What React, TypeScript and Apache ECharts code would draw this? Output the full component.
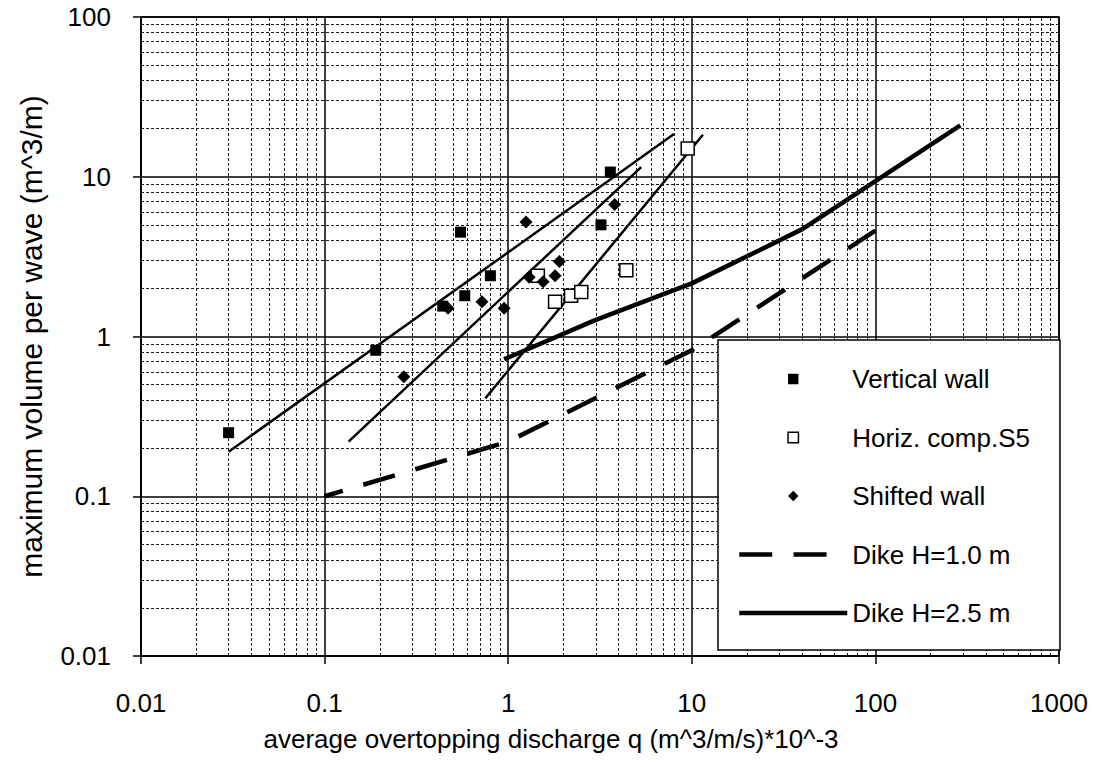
import React, { useEffect, useRef } from 'react';
import * as echarts from 'echarts';

// ---- axis ticks ----
const xTicks = [0.01, 0.1, 1, 10, 100, 1000];
const yTicks = [0.01, 0.1, 1, 10, 100];
const minorSteps = [2, 3, 4, 5, 6, 7, 8, 9];

// ---- data (q in m^3/m/s *10^-3, V in m^3/m) ----
const verticalWallQ = [0.03, 0.19, 0.44, 0.58, 0.8, 0.55, 3.2, 3.6];
const verticalWallV = [0.25, 0.82, 1.55, 1.8, 2.4, 4.5, 5.0, 10.7];

const horizCompQ = [9.5, 1.45, 4.4, 1.8, 2.2, 2.5];
const horizCompV = [15, 2.4, 2.6, 1.65, 1.8, 1.9];

const shiftedWallQ = [3.8, 1.25, 1.9, 1.8, 1.3, 1.55, 0.72, 0.95, 0.47, 0.27];
const shiftedWallV = [6.7, 5.2, 2.95, 2.4, 2.35, 2.2, 1.65, 1.5, 1.5, 0.56];

const fitAQ = [0.03, 8];
const fitAV = [0.19, 18.5];
const fitBQ = [0.135, 5.3];
const fitBV = [0.22, 11.5];
const fitCQ = [0.75, 11.5];
const fitCV = [0.41, 18.3];

const dike10Q = [0.1, 1, 10, 100];
const dike10V = [0.1, 0.22, 0.82, 4.6];

const dike25Q = [0.95, 3, 10, 40, 290];
const dike25V = [0.72, 1.27, 2.15, 4.7, 21];

const legendNames = ['Vertical wall', 'Horiz. comp.S5', 'Shifted wall', 'Dike H=1.0 m', 'Dike H=2.5 m'];

const zip = (a: number[], b: number[]) => a.map((v, i) => [v, b[i]]);
const minorValues = (ticks: number[]) => {
  const out: number[] = [];
  for (let i = 0; i < ticks.length - 1; i++) {
    for (const m of minorSteps) out.push(Number((ticks[i] * m).toPrecision(3)));
  }
  return out;
};
const fmt = (v: number) => String(Number(v.toPrecision(3)));

const FONT = '"Liberation Sans", Arial, sans-serif';

export default function App() {
  const ref = useRef<HTMLDivElement>(null);
  useEffect(() => {
    if (!ref.current) return;
    const chart = echarts.init(ref.current, undefined, { renderer: 'svg' });

    const markerSeries = (name: string, q: number[], v: number[], symbol: string, size: number, itemStyle: any) => ({
      name,
      type: 'line',
      data: zip(q, v),
      symbol,
      symbolSize: size,
      showSymbol: true,
      showAllSymbol: true,
      lineStyle: { width: 0, opacity: 0 },
      itemStyle,
      z: 5,
    });
    const fitSeries = (name: string, q: number[], v: number[]) => ({
      name,
      type: 'line',
      data: zip(q, v),
      symbol: 'none',
      lineStyle: { color: '#000', width: 2.5 },
      itemStyle: { color: 'rgba(0,0,0,0)' },
      z: 4,
    });

    chart.setOption({
      animation: false,
      backgroundColor: '#fff',
      textStyle: { fontFamily: FONT, color: '#000' },
      grid: { left: 141, right: 46, top: 17, bottom: 111, show: true, borderColor: '#000', borderWidth: 1.5, containLabel: false, outerBoundsMode: 'none' },
      xAxis: {
        type: 'log',
        logBase: 10,
        min: xTicks[0],
        max: xTicks[xTicks.length - 1],
        splitNumber: xTicks.length - 1,
        name: 'average overtopping discharge q (m^3/m/s)*10^-3',
        nameLocation: 'middle',
        nameGap: 70,
        nameTextStyle: { fontSize: 26, color: '#000', fontFamily: FONT, padding: [0, 98, 0, 0] },
        axisLine: { show: true, lineStyle: { color: '#000', width: 1.5 } },
        axisTick: { show: true, length: 8, lineStyle: { color: '#000', width: 1.5 } },
        axisLabel: { fontSize: 26, color: '#000', fontFamily: FONT, margin: 34, formatter: fmt },
        splitLine: { show: true, lineStyle: { color: '#000', width: 1.5 } },
        minorTick: { show: false },
      },
      yAxis: {
        type: 'log',
        logBase: 10,
        min: yTicks[0],
        max: yTicks[yTicks.length - 1],
        splitNumber: yTicks.length - 1,
        name: 'maximum volume per wave (m^3/m)',
        nameLocation: 'middle',
        nameGap: 95,
        nameTextStyle: { fontSize: 30, color: '#000', fontFamily: FONT },
        axisLine: { show: true, lineStyle: { color: '#000', width: 1.5 } },
        axisTick: { show: true, length: 8, lineStyle: { color: '#000', width: 1.5 } },
        axisLabel: { fontSize: 26, color: '#000', fontFamily: FONT, margin: 30, formatter: fmt },
        splitLine: { show: true, lineStyle: { color: '#000', width: 1.5 } },
      },
      legend: {
        data: legendNames,
        orient: 'vertical',
        left: 718,
        top: 340,
        itemWidth: 108,
        itemHeight: 13,
        itemGap: 32.5,
        padding: [26, 30, 24, 19],
        backgroundColor: '#fff',
        borderColor: '#000',
        borderWidth: 1.5,
        borderRadius: 0,
        textStyle: { fontSize: 26, color: '#000', fontFamily: FONT },
        lineStyle: { width: 'inherit', dashOffset: 0 },
        itemStyle: { borderWidth: 'inherit' },
        selectedMode: false,
        z: 10,
      },
      series: [
        {
          name: 'grid-minor',
          type: 'line',
          data: [],
          silent: true,
          z: 1,
          markLine: {
            silent: true,
            symbol: ['none', 'none'],
            label: { show: false },
            lineStyle: { color: '#1a1a1a', width: 1, type: [3, 2] },
            emphasis: { disabled: true },
            data: [
              ...minorValues(xTicks).map((v) => ({ xAxis: v })),
              ...minorValues(yTicks).map((v) => ({ yAxis: v })),
            ],
          },
        },
        markerSeries('Vertical wall', verticalWallQ, verticalWallV, 'rect', 11, { color: '#000' }),
        markerSeries('Horiz. comp.S5', horizCompQ, horizCompV, 'rect', 13, { color: '#fff', borderColor: '#000', borderWidth: 1.5 }),
        markerSeries('Shifted wall', shiftedWallQ, shiftedWallV, 'diamond', 13, { color: '#000' }),
        fitSeries('fit A', fitAQ, fitAV),
        fitSeries('fit B', fitBQ, fitBV),
        fitSeries('fit C', fitCQ, fitCV),
        {
          name: 'Dike H=1.0 m',
          type: 'line',
          data: zip(dike10Q, dike10V),
          symbol: 'none',
          lineStyle: { color: '#000', width: 4.5, type: [33, 21.3], dashOffset: 14, cap: 'butt' },
          itemStyle: { color: 'rgba(0,0,0,0)' },
          z: 4,
        },
        {
          name: 'Dike H=2.5 m',
          type: 'line',
          data: zip(dike25Q, dike25V),
          symbol: 'none',
          lineStyle: { color: '#000', width: 4.5 },
          itemStyle: { color: 'rgba(0,0,0,0)' },
          z: 4,
        },
      ],
    });
    return () => chart.dispose();
  }, []);

  return (
    <div
      ref={ref}
      style={{ position: 'fixed', left: 0, top: 0, width: 1105, height: 767, background: '#fff' }}
    />
  );
}
